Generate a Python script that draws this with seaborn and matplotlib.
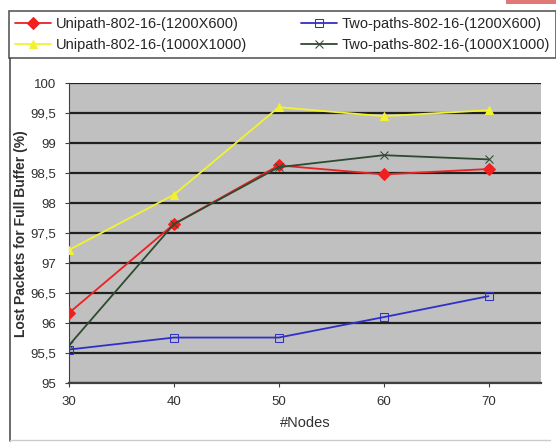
import matplotlib
matplotlib.use("Agg")
import matplotlib.pyplot as plt
import matplotlib.patches as mpatches
import seaborn as sns
import pandas as pd

# data
nodes = [30, 40, 50, 60, 70]
uni_1200 = [96.17, 97.65, 98.63, 98.48, 98.57]
two_1200 = [95.56, 95.76, 95.76, 96.10, 96.45]
uni_1000 = [97.22, 98.14, 99.60, 99.45, 99.55]
two_1000 = [95.63, 97.65, 98.60, 98.80, 98.73]
y_ticks = [95, 95.5, 96, 96.5, 97, 97.5, 98, 98.5, 99, 99.5, 100]
y_labels = ["95", "95,5", "96", "96,5", "97", "97,5", "98", "98,5", "99", "99,5", "100"]

sns.set_style("white")
plt.rcParams["font.family"] = ["Liberation Sans", "DejaVu Sans"]

fig = plt.figure(figsize=(5.56, 4.45), dpi=100)
ax = fig.add_axes([0.124, 0.139, 0.849, 0.674])
ax.set_facecolor("#c0c0c0")

series = [
    ("Unipath-802-16-(1200X600)", uni_1200, "#ee2020", "D", "#ee2020"),
    ("Unipath-802-16-(1000X1000)", uni_1000, "#f2f230", "^", "#f2f230"),
    ("Two-paths-802-16-(1200X600)", two_1200, "#3030c8", "s", "none"),
    ("Two-paths-802-16-(1000X1000)", two_1000, "#2e4a30", "x", "#2e4a30"),
]
for name, vals, col, mk, fc in series:
    df = pd.DataFrame({"x": nodes, "y": vals})
    sns.lineplot(data=df, x="x", y="y", ax=ax, color=col, marker=mk,
                 markerfacecolor=fc, markeredgecolor=col, markersize=6,
                 linewidth=1.3, label=name, zorder=3)

ax.set_xlim(30, 75)
ax.set_ylim(95, 100)
ax.set_xticks(nodes)
ax.set_yticks(y_ticks)
ax.set_yticklabels(y_labels)
ax.yaxis.grid(True, color="#202020", linewidth=1.6)
ax.set_axisbelow(True)
for s in ["top", "right"]:
    ax.spines[s].set_visible(False)
ax.spines["left"].set_color("#404040")
ax.spines["bottom"].set_color("#404040")
ax.spines["bottom"].set_linewidth(1.6)
ax.tick_params(axis="both", direction="out", length=3, color="#404040",
               labelsize=9.5, colors="#303030", bottom=True, left=True, pad=6)
ax.set_xlabel("#Nodes", fontsize=10.5, color="#303030", labelpad=6)
ax.set_ylabel("Lost Packets for Full Buffer (%)", fontsize=10,
              fontweight="bold", color="#303030")
ax.yaxis.set_label_coords(-0.086, 0.5)

ax.get_legend().remove()
h, l = ax.get_legend_handles_labels()
leg = fig.legend(h, l, ncol=2, loc="center", bbox_to_anchor=(0.016, 0.87, 0.984, 0.105),
                 mode="expand", frameon=True, fontsize=10.5, handlelength=2.5,
                 borderaxespad=0, columnspacing=1.0, handletextpad=0.3,
                 labelspacing=0.45, fancybox=False, borderpad=0.4)
leg.get_frame().set_edgecolor("#303030")
leg.get_frame().set_linewidth(1.2)

# outer chart border
fig.add_artist(plt.Line2D([0.018, 0.018], [0.01, 0.87], color="#505050", lw=1.2))
fig.add_artist(plt.Line2D([0.018, 0.99], [0.012, 0.012], color="#cccccc", lw=1.0))

# pink corner tab
fig.add_artist(mpatches.Rectangle((0.91, 0.99), 0.1, 0.02, transform=fig.transFigure,
                                  facecolor="#e07878", edgecolor="none"))

fig.savefig("out.png", dpi=100)
